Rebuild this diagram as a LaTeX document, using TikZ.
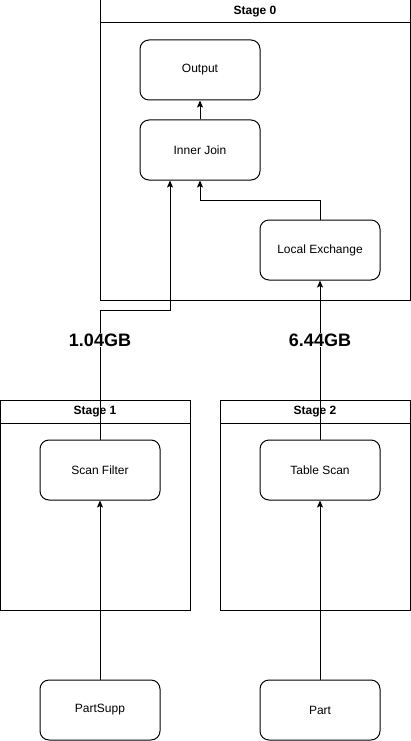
\documentclass[tikz,border=0pt]{standalone}
\usepackage{fontspec}
\setmainfont{Liberation Sans}
\usetikzlibrary{arrows.meta}
\begin{document}
\begin{tikzpicture}[x=1pt,y=-1pt,
  box/.style={draw,line width=1pt,rounded corners=9pt,minimum width=120pt,minimum height=60pt,inner sep=0pt,font=\fontsize{12}{14}\selectfont},
  stagebox/.style={draw,line width=1pt,inner sep=0pt},
  stagetitle/.style={font=\bfseries\fontsize{12}{14}\selectfont,inner sep=0pt},
  conn/.style={line width=1pt,-{Stealth[length=7pt,width=6pt,inset=1.5pt]}},
  gb/.style={fill=white,font=\bfseries\fontsize{18}{20}\selectfont,inner sep=1pt}]
\useasboundingbox (0,0) rectangle (411,741);
% stages
\node[stagebox,minimum width=310pt,minimum height=300pt] (s0) at (255,150) {};
\draw[line width=1pt] (100,23) -- (410,23);
\node[stagetitle] (s0t) at (255,11.5) {Stage 0};
\node[stagebox,minimum width=190pt,minimum height=210pt] (s1) at (95,505) {};
\draw[line width=1pt] (0,423) -- (190,423);
\node[stagebox,minimum width=190pt,minimum height=210pt] (s2) at (315,505) {};
\draw[line width=1pt] (220,423) -- (410,423);
% boxes
\node[box] (out) at (200,70) {Output};
\node[box] (ij) at (200,150) {Inner Join};
\node[box] (le) at (320,250) {Local Exchange};
\node[box] (sf) at (100,470) {Scan Filter};
\node[box] (ts) at (320,470) {Table Scan};
\node[box] (ps) at (100,710) {PartSupp};
\node[box] (pt) at (320,710) {Part};
% connectors
\coordinate (j1) at (100,310);
\coordinate (j2) at (170,310);
\draw[conn] (ij.north) -- (out.south);
\draw[conn] (le.north) |- (200,200) -- (ij.south);
\draw[conn] (ps.north) -- (sf.south);
\draw[conn] (pt.north) -- (ts.south);
\draw[conn] (ts.north) -- (le.south);
\draw[conn] (sf.north) -- (j1) -- (j2) -- (ij.south -| j2);
% stage titles over lines
\node[stagetitle] (s1t) at (95,411.5) {Stage 1};
\node[stagetitle] (s2t) at (315,411.5) {Stage 2};
\node[gb] (g1) at (100,340) {1.04GB};
\node[gb] (g2) at (320,340) {6.44GB};
\end{tikzpicture}
\end{document}
